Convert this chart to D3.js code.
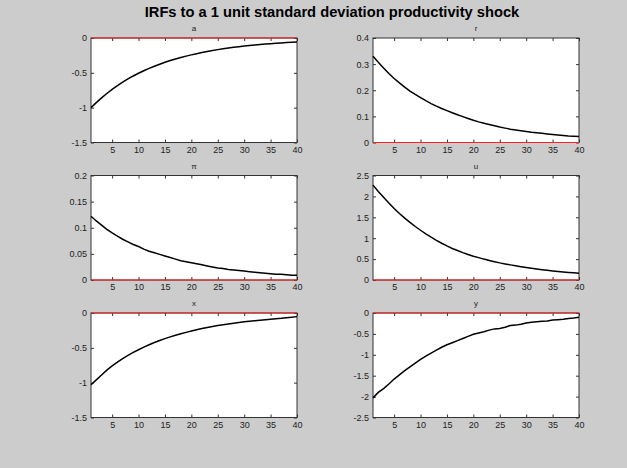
<!DOCTYPE html>
<html>
<head>
<meta charset="utf-8">
<script src="https://cdn.jsdelivr.net/npm/d3@7"></script>
<style>
  body { margin: 0; background: #cccccc; }
  svg { display: block; font-family: "Liberation Sans", Arial, sans-serif; }
  .tick text { fill: #222; font-size: 9px; }
</style>
</head>
<body>
<div id="fig"></div>
<script>
var W = 627, H = 468;

var periods = d3.range(1, 41);

var titles = ["a", "r", "\u03c0", "u", "x", "y"];

var yDomains = [[-1.5, 0], [0, 0.4], [0, 0.2], [0, 2.5], [-1.5, 0], [-2.5, 0]];

var yTicks = [
  [-1.5, -1, -0.5, 0],
  [0, 0.1, 0.2, 0.3, 0.4],
  [0, 0.05, 0.1, 0.15, 0.2],
  [0, 0.5, 1, 1.5, 2, 2.5],
  [-1.5, -1, -0.5, 0],
  [-2.5, -2, -1.5, -1, -0.5, 0]
];

var xTicks = [5, 10, 15, 20, 25, 30, 35, 40];

// values, periods 1..40
var irfA = [-1.000, -0.928, -0.860, -0.797, -0.738, -0.684, -0.634, -0.588, -0.545, -0.506,
  -0.470, -0.436, -0.405, -0.376, -0.349, -0.324, -0.301, -0.280, -0.260, -0.242,
  -0.225, -0.209, -0.194, -0.180, -0.167, -0.155, -0.144, -0.134, -0.125, -0.116,
  -0.108, -0.100, -0.093, -0.087, -0.081, -0.075, -0.070, -0.065, -0.060, -0.056];

var irfR = [0.330, 0.307, 0.285, 0.264, 0.245, 0.228, 0.212, 0.197, 0.184, 0.172,
  0.160, 0.149, 0.139, 0.130, 0.122, 0.114, 0.106, 0.099, 0.092, 0.085,
  0.079, 0.074, 0.069, 0.064, 0.059, 0.055, 0.051, 0.048, 0.045, 0.042,
  0.039, 0.037, 0.035, 0.033, 0.031, 0.029, 0.027, 0.025, 0.024, 0.023];

var irfPi = [0.122, 0.113, 0.105, 0.097, 0.090, 0.084, 0.078, 0.073, 0.068, 0.064,
  0.059, 0.055, 0.052, 0.049, 0.046, 0.043, 0.040, 0.037, 0.035, 0.033,
  0.031, 0.029, 0.027, 0.025, 0.023, 0.022, 0.020, 0.019, 0.018, 0.017,
  0.016, 0.015, 0.014, 0.013, 0.012, 0.011, 0.011, 0.010, 0.009, 0.009];

var irfU = [2.270, 2.120, 1.980, 1.840, 1.710, 1.590, 1.480, 1.380, 1.280, 1.190,
  1.105, 1.025, 0.950, 0.880, 0.815, 0.755, 0.705, 0.655, 0.610, 0.570,
  0.535, 0.500, 0.468, 0.438, 0.410, 0.385, 0.362, 0.340, 0.318, 0.298,
  0.280, 0.263, 0.247, 0.232, 0.218, 0.205, 0.193, 0.182, 0.171, 0.160];

var irfX = [-1.030, -0.960, -0.890, -0.820, -0.760, -0.705, -0.655, -0.608, -0.566, -0.527,
  -0.490, -0.455, -0.423, -0.394, -0.368, -0.343, -0.320, -0.298, -0.278, -0.259,
  -0.241, -0.224, -0.208, -0.193, -0.180, -0.168, -0.157, -0.146, -0.136, -0.127,
  -0.118, -0.110, -0.103, -0.096, -0.089, -0.083, -0.077, -0.068, -0.060, -0.052];

var irfY = [-2.030, -1.900, -1.810, -1.700, -1.580, -1.480, -1.380, -1.290, -1.200, -1.110,
  -1.030, -0.960, -0.890, -0.820, -0.760, -0.710, -0.660, -0.610, -0.560, -0.510,
  -0.480, -0.450, -0.410, -0.380, -0.370, -0.340, -0.300, -0.290, -0.270, -0.240,
  -0.220, -0.210, -0.200, -0.190, -0.170, -0.160, -0.150, -0.130, -0.120, -0.100];

var series = [irfA, irfR, irfPi, irfU, irfX, irfY];

var cols = [91, 373], colW = 206;
var rows = [38, 175.5, 313], rowH = 104.5;

var svg = d3.select('#fig')
  .append('svg')
    .attr('width', W)
    .attr('height', H);

svg.append('rect')
  .attr('width', W)
  .attr('height', H)
  .attr('fill', '#cccccc');

svg.append('text')
  .attr('x', 332)
  .attr('y', 17)
  .attr('text-anchor', 'middle')
  .attr('font-size', '14.7px')
  .attr('font-weight', 'bold')
  .attr('fill', '#000')
  .text('IRFs to a 1 unit standard deviation productivity shock');

series.forEach(function(vals, i) {
  var left = cols[i % 2], top = rows[Math.floor(i / 2)];

  var x = d3.scaleLinear().domain([1, 40]).range([0, colW]);
  var y = d3.scaleLinear().domain(yDomains[i]).range([rowH, 0]);

  var g = svg.append('g')
    .attr('transform', 'translate(' + left + ',' + top + ')');

  g.append('rect')
    .attr('width', colW)
    .attr('height', rowH)
    .attr('fill', '#fff');

  // inward ticks, MATLAB style, on all four sides
  g.append('g')
    .attr('transform', 'translate(0,' + rowH + ')')
    .call(d3.axisBottom(x).tickValues(xTicks).tickSizeInner(-3).tickSizeOuter(0).tickPadding(4))
    .call(function(a) { a.select('.domain').remove(); });

  g.append('g')
    .call(d3.axisTop(x).tickValues(xTicks).tickSizeInner(-3).tickSizeOuter(0).tickFormat(''))
    .call(function(a) { a.select('.domain').remove(); });

  g.append('g')
    .call(d3.axisLeft(y).tickValues(yTicks[i]).tickSizeInner(-3).tickSizeOuter(0).tickPadding(4)
      .tickFormat(d3.format('~g')))
    .call(function(a) { a.select('.domain').remove(); });

  g.append('g')
    .attr('transform', 'translate(' + colW + ',0)')
    .call(d3.axisRight(y).tickValues(yTicks[i]).tickSizeInner(-3).tickSizeOuter(0).tickFormat(''))
    .call(function(a) { a.select('.domain').remove(); });

  g.selectAll('.tick line').attr('stroke', '#333');
  g.selectAll('.tick text').text(function() {
    return d3.select(this).text().replace('\u2212', '-');
  });

  g.append('rect')
    .attr('width', colW)
    .attr('height', rowH)
    .attr('fill', 'none')
    .attr('stroke', '#333')
    .attr('stroke-width', 1);

  g.append('line')
    .attr('x1', x(1))
    .attr('x2', x(40))
    .attr('y1', y(0))
    .attr('y2', y(0))
    .attr('stroke', '#ff2020')
    .attr('stroke-width', 1.2);

  g.append('path')
    .datum(vals)
    .attr('fill', 'none')
    .attr('stroke', '#000')
    .attr('stroke-width', 1.5)
    .attr('d', d3.line()
      .x(function(d, j) { return x(periods[j]); })
      .y(function(d) { return y(d); }));

  g.append('text')
    .attr('x', colW / 2)
    .attr('y', -7)
    .attr('text-anchor', 'middle')
    .attr('font-size', '8px')
    .attr('fill', '#222')
    .text(titles[i]);
});
</script>
</body>
</html>
